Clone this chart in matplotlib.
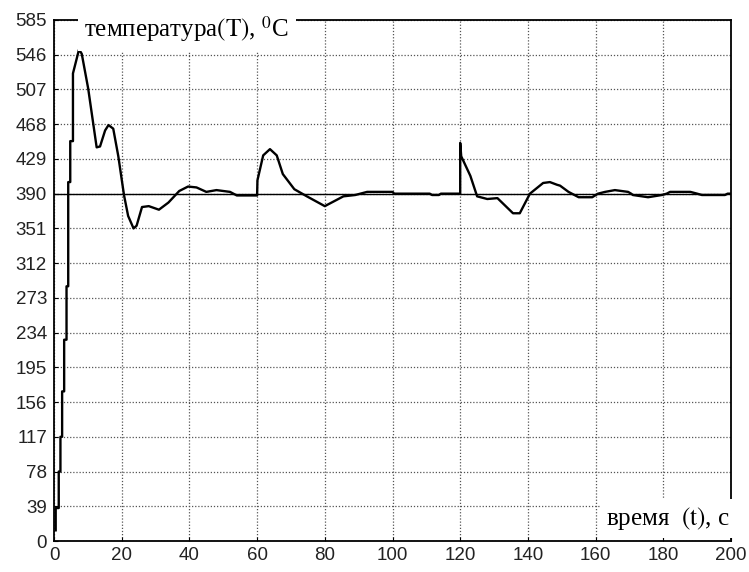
import numpy as np
import matplotlib
matplotlib.use("Agg")
import matplotlib.pyplot as plt

plt.rcParams['mathtext.fontset'] = 'stix'

# temperature curve (t in s, T in deg C)
t_vals = [0.5, 0.5, 1.4, 1.4, 1.9, 1.9, 2.4, 2.4, 3.0, 3.0, 3.7, 3.7, 4.2, 4.2,
          4.8, 4.8, 5.6, 5.6, 7.4, 8.2, 10.1, 12.6, 13.6, 15.1, 16.1,
          17.5, 19.0, 20.0, 20.7, 21.9, 23.5, 24.4, 26.0, 28.0, 31.0, 33.8, 37.0,
          39.6, 42.1, 45.0, 48.0, 52.0, 54.0, 60.0, 60.1, 61.8, 63.8, 65.8, 67.6,
          71.0, 74.7, 80.0, 85.5, 89.0, 90.5, 92.5, 100.0, 100.5, 111.0, 111.7,
          113.7, 114.3, 120.0, 120.0, 120.3, 123.0, 125.0, 128.0, 131.0, 135.6,
          137.6, 140.6, 144.5, 146.5, 148.6, 149.5, 152.0, 155.0, 159.0, 160.7,
          162.8, 165.7, 169.6, 170.5, 171.0, 175.5, 179.6, 181.0, 182.0, 188.0,
          190.0, 191.4, 198.2, 199.0, 200.0]
T_vals = [12, 37, 37, 78, 78, 117, 117, 168, 168, 226, 226, 286, 286, 403,
          403, 449, 449, 525, 552, 547, 508, 442, 443, 461, 467,
          463, 432, 406, 388, 365, 351, 354, 375, 376, 372, 380, 393,
          398, 397, 392, 394, 392, 388, 388, 405, 433, 440, 433, 412,
          395, 387, 376, 387, 388.5, 390, 392, 392, 390, 390, 388.5,
          388.5, 390, 390, 447, 432, 410, 387, 384, 385, 368,
          368, 390, 402, 403, 400, 399, 392, 386, 386, 390,
          392, 394, 392, 390, 388.5, 386, 388.5, 390, 392, 392,
          390, 388.5, 388.5, 390, 390]

setpoint = 390
y_ticks = list(range(0, 586, 39))
x_ticks = list(range(0, 201, 20))

fig = plt.figure(figsize=(7.49, 5.72), dpi=100)
ax = fig.add_axes([54 / 749, 1 - 541 / 572, 677 / 749, 521 / 572])

ax.plot(t_vals, T_vals, color='black', linewidth=1.7, zorder=3)
ax.axhline(setpoint, color='black', linewidth=1.0, zorder=2.6)

ax.set_xlim(0, 200)
ax.set_ylim(0, 585)
ax.set_xticks(x_ticks)
ax.set_yticks(y_ticks)
ax.grid(True, color='#555555', linestyle=(0, (1, 1.5)), linewidth=0.9)
ax.tick_params(axis='both', direction='in', length=3, labelsize=13.5, colors='black')
ax.tick_params(axis='y', pad=5)
ax.tick_params(axis='x', pad=4)
for lab in ax.get_xticklabels() + ax.get_yticklabels():
    lab.set_fontfamily('Liberation Sans')
    lab.set_color('#222222')
for sp in ax.spines.values():
    sp.set_linewidth(1.3)

box = dict(boxstyle='square,pad=0.25', fc='white', ec='none')
ax.text(0.045, 0.967, r"температура$\left(\mathrm{T}\right)$, $^{0}$C",
        transform=ax.transAxes, fontsize=18, family='Liberation Serif',
        va='baseline', ha='left', bbox=box, clip_on=False, zorder=5)
ax.text(0.998, 0.031, r"время  $\left(\mathrm{t}\right)$, с",
        transform=ax.transAxes, fontsize=18, family='Liberation Serif',
        va='baseline', ha='right', bbox=box, clip_on=False, zorder=5)

plt.savefig('out.png', dpi=100)
